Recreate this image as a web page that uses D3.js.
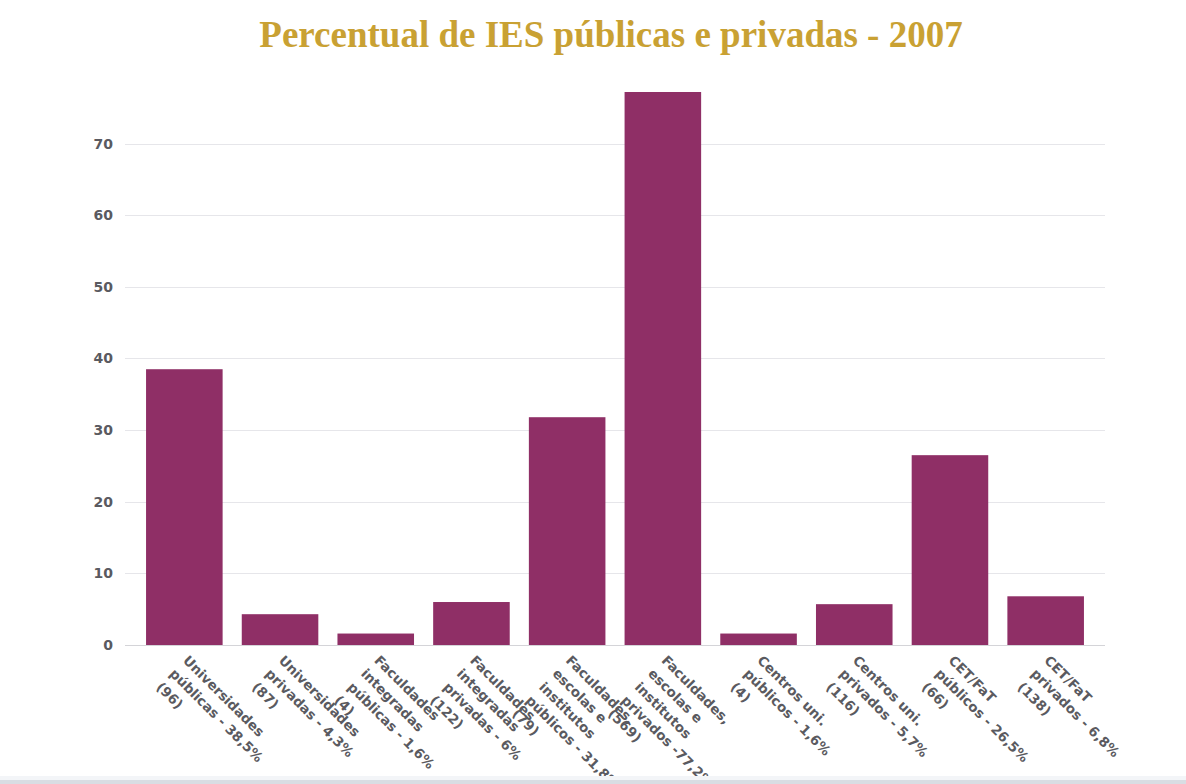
<!DOCTYPE html>
<html>
<head>
<meta charset="utf-8">
<script src="https://cdn.jsdelivr.net/npm/d3@7"></script>
<style>
  html, body { margin: 0; padding: 0; background: #ffffff; }
  svg { display: block; }
</style>
</head>
<body>
<svg id="chart" width="1186" height="784"></svg>
<script>
// Share of public and private higher-education institutions (IES), 2007
const chartTitle = "Percentual de IES públicas e privadas - 2007";

// Category label lines (drawn as stacked, rotated lines under each bar)
const categoryLines = [
  ["Universidades", "públicas - 38,5%", "(96)"],
  ["Universidades", "privadas - 4,3%", "(87)"],
  ["Faculdades", "integradas", "públicas - 1,6%", "(4)"],
  ["Faculdades", "integradas", "privadas - 6%", "(122)"],
  ["Faculdades,", "escolas e", "institutos", "públicos - 31,8%", "(79)"],
  ["Faculdades,", "escolas e", "institutos", "privados -77,2%", "(569)"],
  ["Centros uni.", "públicos - 1,6%", "(4)"],
  ["Centros uni.", "privados - 5,7%", "(116)"],
  ["CET/FaT", "públicos - 26,5%", "(66)"],
  ["CET/FaT", "privados - 6,8%", "(138)"]
];

// Percent values, as stated in each category label
const percentValues = [38.5, 4.3, 1.6, 6, 31.8, 77.2, 1.6, 5.7, 26.5, 6.8];

const yTicks = [0, 10, 20, 30, 40, 50, 60, 70];

const svg = d3.select("#chart");
const W = 1186, H = 784;
const margin = { top: 92, right: 81, bottom: 139, left: 125 };
const plotW = W - margin.left - margin.right;
const plotH = H - margin.top - margin.bottom;

const data = categoryLines.map((lines, i) => ({ key: i, lines, value: percentValues[i] }));

const x = d3.scaleBand()
  .domain(data.map(d => d.key))
  .range([0, plotW])
  .paddingInner(0.2)
  .paddingOuter(0.22);

const y = d3.scaleLinear()
  .domain([0, 77.2])
  .range([plotH, 0]);

// Title
svg.append("text")
  .attr("x", 611)
  .attr("y", 47)
  .attr("text-anchor", "middle")
  .attr("font-family", "'Liberation Serif', 'Times New Roman', serif")
  .attr("font-weight", "bold")
  .attr("font-size", 37)
  .attr("fill", "#c9a133")
  .text(chartTitle);

const g = svg.append("g").attr("transform", `translate(${margin.left},${margin.top})`);

// Horizontal grid lines
g.append("g")
  .selectAll("line")
  .data(yTicks)
  .join("line")
  .attr("x1", 0)
  .attr("x2", plotW)
  .attr("y1", d => Math.round(y(d)) + 0.5)
  .attr("y2", d => Math.round(y(d)) + 0.5)
  .attr("stroke", d => d === 0 ? "#d4d4d8" : "#e6e6ea")
  .attr("stroke-width", 1);

// Y axis labels
const yAxis = d3.axisLeft(y).tickValues(yTicks).tickSize(0).tickPadding(12);
const yAxisG = g.append("g").call(yAxis);
yAxisG.select(".domain").remove();
yAxisG.selectAll("text")
  .attr("font-family", "'DejaVu Sans', sans-serif")
  .attr("font-weight", "bold")
  .attr("font-size", 14)
  .attr("fill", "#5a5a60");

// Bars
g.append("g")
  .selectAll("rect")
  .data(data)
  .join("rect")
  .attr("x", d => x(d.key))
  .attr("y", d => y(d.value))
  .attr("width", x.bandwidth())
  .attr("height", d => plotH - y(d.value))
  .attr("fill", "#8f2f66");

// Rotated category labels
const xAxis = d3.axisBottom(x).tickSize(0).tickFormat(() => "");
const xAxisG = g.append("g").attr("transform", `translate(0,${plotH})`).call(xAxis);
xAxisG.select(".domain").remove();

const labelG = g.append("g").attr("transform", `translate(0,${plotH})`);
const labels = labelG.selectAll("text")
  .data(data)
  .join("text")
  .attr("transform", d => `translate(${x(d.key) + x.bandwidth() / 2 + 5},${9}) rotate(45)`)
  .attr("font-family", "'DejaVu Sans', sans-serif")
  .attr("font-weight", "bold")
  .attr("font-size", 13.5)
  .attr("fill", "#5a5a60")
  .attr("text-anchor", "start");

labels.selectAll("tspan")
  .data(d => d.lines)
  .join("tspan")
  .attr("x", 0)
  .attr("dy", (d, i) => i === 0 ? "0.75em" : "1.4em")
  .text(d => d);

// Bottom band
svg.append("rect")
  .attr("x", 0)
  .attr("y", 780)
  .attr("width", W)
  .attr("height", 4)
  .attr("fill", "#d9dde3");
svg.append("rect")
  .attr("x", 0)
  .attr("y", 776)
  .attr("width", W)
  .attr("height", 4)
  .attr("fill", "#f3f5f8");
</script>
</body>
</html>
